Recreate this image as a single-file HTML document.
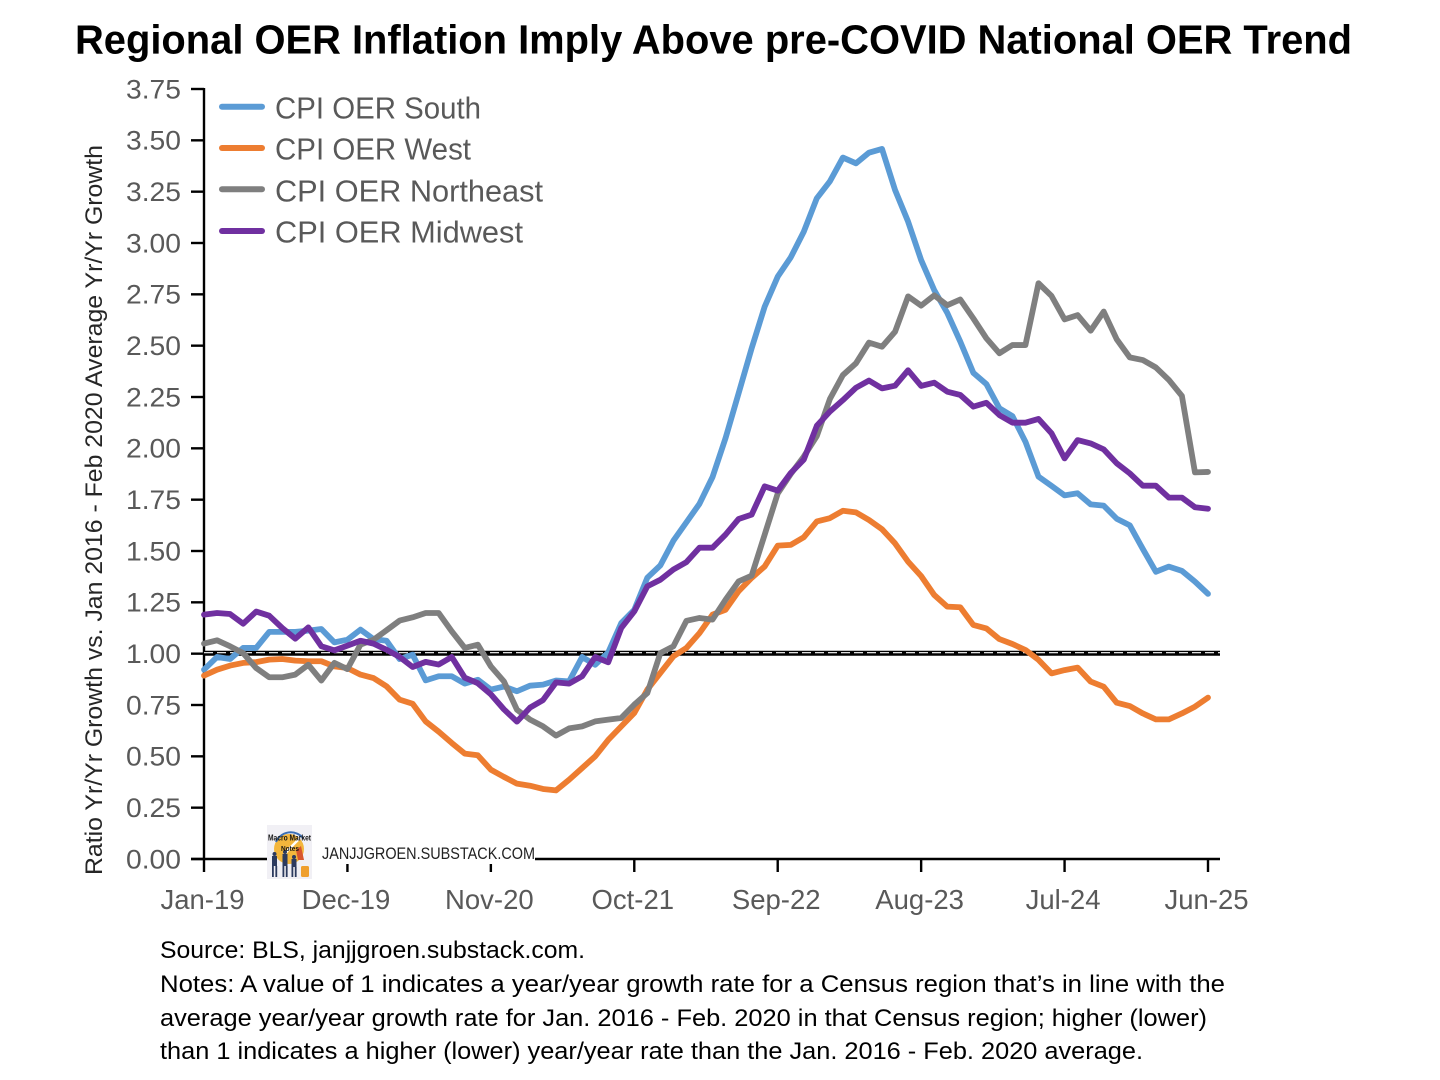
<!DOCTYPE html>
<html lang="en">
<head>
<meta charset="utf-8">
<title>Regional OER Inflation Imply Above pre-COVID National OER Trend</title>
<style>
html,body{margin:0;padding:0;background:#fff;}
svg{display:block;}
text{font-family:"Liberation Sans",Arial,sans-serif;}
</style>
</head>
<body>
<svg id="chart" xmlns="http://www.w3.org/2000/svg" width="1440" height="1080" viewBox="0 0 1440 1080">
  <rect x="0" y="0" width="1440" height="1080" fill="#ffffff"/>
  <text x="75" y="53.5" font-size="40.5" font-weight="700" fill="#000" textLength="1277" lengthAdjust="spacingAndGlyphs">Regional OER Inflation Imply Above pre-COVID National OER Trend</text>
  <text transform="translate(102,875) rotate(-90)" font-size="24" fill="#262626" textLength="730" lengthAdjust="spacingAndGlyphs">Ratio Yr/Yr Growth vs. Jan 2016 - Feb 2020 Average Yr/Yr Growth</text>
  <g id="axes"></g>
  <g id="reference"></g>
  <g id="series"></g>

  <g>
    <g>
      <line x1="222" x2="262" y1="106.7" y2="106.7" stroke="#5B9BD5" stroke-width="6" stroke-linecap="round"/>
      <text x="275" y="118.7" font-size="31" fill="#595959" textLength="206" lengthAdjust="spacingAndGlyphs">CPI OER South</text>
    </g>
    <g>
      <line x1="222" x2="262" y1="148" y2="148" stroke="#ED7D31" stroke-width="6" stroke-linecap="round"/>
      <text x="275" y="159.6" font-size="31" fill="#595959" textLength="196" lengthAdjust="spacingAndGlyphs">CPI OER West</text>
    </g>
    <g>
      <line x1="222" x2="262" y1="189.3" y2="189.3" stroke="#7F7F7F" stroke-width="6" stroke-linecap="round"/>
      <text x="275" y="201.3" font-size="31" fill="#595959" textLength="268" lengthAdjust="spacingAndGlyphs">CPI OER Northeast</text>
    </g>
    <g>
      <line x1="222" x2="262" y1="231" y2="231" stroke="#7030A0" stroke-width="6" stroke-linecap="round"/>
      <text x="275" y="242.7" font-size="31" fill="#595959" textLength="248" lengthAdjust="spacingAndGlyphs">CPI OER Midwest</text>
    </g>
  </g>

  <g>
    <rect x="267" y="852" width="268" height="12" fill="#ffffff"/>
    <g>
      <rect x="267" y="825" width="45" height="54" fill="#f1f0f5"/>
      <circle cx="289" cy="849" r="15" fill="#f3b63c"/>
      <path d="M276 842 A16 16 0 0 1 303 838" fill="none" stroke="#3b6fb5" stroke-width="2"/>
      <path d="M283 856 L290 848 L300 838" fill="none" stroke="#ffffff" stroke-width="2.4"/>
      <path d="M296 850 l5 -4 l3 14 l-6 0 z" fill="#d8552c"/>
      <g fill="#2c3a5e">
        <circle cx="274.500" cy="854" r="2"/><rect x="272" y="856" width="5" height="10"/>
        <rect x="272" y="866" width="1.800" height="11"/><rect x="275.400" y="866" width="1.800" height="11"/>
        <circle cx="285" cy="852" r="2"/><rect x="282.500" y="854" width="5" height="12"/>
        <rect x="282.500" y="866" width="1.800" height="11"/><rect x="285.800" y="866" width="1.800" height="11"/>
        <circle cx="294" cy="857" r="2"/><rect x="291.500" y="859" width="5" height="8"/>
        <rect x="291.500" y="867" width="1.800" height="10"/><rect x="294.800" y="867" width="1.800" height="10"/>
      </g>
      <rect x="301" y="866" width="8" height="11" rx="1.500" fill="#ef9f2e"/>
      <text x="268" y="840.500" font-size="8" font-weight="700" fill="#141414" textLength="43" lengthAdjust="spacingAndGlyphs">Macro Market</text>
      <text x="281" y="851" font-size="7.500" font-weight="700" fill="#141414" textLength="18" lengthAdjust="spacingAndGlyphs">Notes</text>
    </g>
    <text x="322" y="859" font-size="16.500" fill="#222" textLength="213" lengthAdjust="spacingAndGlyphs">JANJJGROEN.SUBSTACK.COM</text>
  </g>

  <g font-size="24" fill="#000">
    <text x="160" y="958" textLength="425" lengthAdjust="spacingAndGlyphs">Source: BLS, janjjgroen.substack.com.</text>
    <text x="160" y="992" textLength="1065" lengthAdjust="spacingAndGlyphs">Notes: A value of 1 indicates a year/year growth rate for a Census region that’s in line with the</text>
    <text x="160" y="1026" textLength="1047" lengthAdjust="spacingAndGlyphs">average year/year growth rate for Jan. 2016 - Feb. 2020 in that Census region; higher (lower)</text>
    <text x="160" y="1059" textLength="983" lengthAdjust="spacingAndGlyphs">than 1 indicates a higher (lower) year/year rate than the Jan. 2016 - Feb. 2020 average.</text>
  </g>
</svg>

<script>
const categories = [
  'Jan-19','Feb-19','Mar-19','Apr-19','May-19','Jun-19','Jul-19','Aug-19','Sep-19','Oct-19','Nov-19','Dec-19',
  'Jan-20','Feb-20','Mar-20','Apr-20','May-20','Jun-20','Jul-20','Aug-20','Sep-20','Oct-20','Nov-20','Dec-20',
  'Jan-21','Feb-21','Mar-21','Apr-21','May-21','Jun-21','Jul-21','Aug-21','Sep-21','Oct-21','Nov-21','Dec-21',
  'Jan-22','Feb-22','Mar-22','Apr-22','May-22','Jun-22','Jul-22','Aug-22','Sep-22','Oct-22','Nov-22','Dec-22',
  'Jan-23','Feb-23','Mar-23','Apr-23','May-23','Jun-23','Jul-23','Aug-23','Sep-23','Oct-23','Nov-23','Dec-23',
  'Jan-24','Feb-24','Mar-24','Apr-24','May-24','Jun-24','Jul-24','Aug-24','Sep-24','Oct-24','Nov-24','Dec-24',
  'Jan-25','Feb-25','Mar-25','Apr-25','May-25','Jun-25'
];
const xTickLabels = ['Jan-19','Dec-19','Nov-20','Oct-21','Sep-22','Aug-23','Jul-24','Jun-25'];
const yTickLabels = ['0.00','0.25','0.50','0.75','1.00','1.25','1.50','1.75','2.00','2.25','2.50','2.75','3.00','3.25','3.50','3.75'];
const referenceValue = 1;

const southValues = [
  0.922,0.984,0.974,1.028,1.028,1.106,1.106,1.106,1.112,1.12,1.055,1.068,1.117,1.071,1.063,0.974,
  0.995,0.87,0.89,0.89,0.854,0.873,0.825,0.84,0.817,0.844,0.849,0.869,0.865,0.984,0.946,1.006,
  1.149,1.214,1.37,1.43,1.55,1.64,1.73,1.86,2.05,2.268,2.487,2.69,2.836,2.93,3.055,3.218,
  3.30,3.416,3.388,3.44,3.458,3.258,3.104,2.917,2.771,2.66,2.52,2.368,2.313,2.195,2.157,2.032,
  1.862,1.817,1.771,1.781,1.727,1.721,1.657,1.625,1.51,1.399,1.424,1.403,1.351,1.291
];
const westValues = [
  0.893,0.922,0.942,0.955,0.959,0.971,0.974,0.966,0.963,0.963,0.938,0.93,0.898,0.881,0.841,0.776,
  0.756,0.67,0.62,0.565,0.513,0.505,0.435,0.4,0.367,0.357,0.341,0.334,0.386,0.443,0.5,0.58,
  0.646,0.711,0.825,0.906,0.987,1.028,1.10,1.19,1.214,1.304,1.369,1.425,1.526,1.53,1.567,1.644,
  1.66,1.696,1.688,1.651,1.606,1.537,1.448,1.378,1.286,1.229,1.226,1.14,1.123,1.071,1.047,1.018,
  0.97,0.904,0.92,0.932,0.864,0.839,0.761,0.745,0.709,0.68,0.68,0.709,0.742,0.786
];
const northeastValues = [
  1.049,1.065,1.036,1.003,0.93,0.885,0.885,0.898,0.946,0.869,0.955,0.925,1.044,1.068,1.114,1.161,
  1.177,1.198,1.198,1.109,1.028,1.044,0.938,0.865,0.727,0.679,0.646,0.601,0.636,0.646,0.67,0.679,
  0.687,0.752,0.808,1.003,1.036,1.16,1.174,1.166,1.263,1.352,1.38,1.58,1.78,1.875,1.96,2.06,
  2.24,2.357,2.414,2.515,2.495,2.568,2.74,2.695,2.745,2.697,2.725,2.633,2.536,2.463,2.503,2.503,
  2.804,2.742,2.628,2.649,2.573,2.666,2.531,2.443,2.43,2.394,2.333,2.255,1.883,1.885
];
const midwestValues = [
  1.19,1.198,1.193,1.146,1.205,1.185,1.125,1.073,1.128,1.036,1.016,1.039,1.063,1.049,1.019,0.984,
  0.935,0.96,0.947,0.984,0.883,0.856,0.802,0.729,0.669,0.737,0.774,0.86,0.854,0.89,0.984,0.958,
  1.125,1.206,1.328,1.36,1.41,1.446,1.516,1.516,1.58,1.656,1.677,1.815,1.794,1.88,1.945,2.11,
  2.179,2.235,2.295,2.33,2.292,2.305,2.38,2.304,2.32,2.276,2.26,2.203,2.222,2.162,2.125,2.125,
  2.143,2.073,1.951,2.04,2.024,1.995,1.927,1.878,1.818,1.818,1.76,1.76,1.713,1.706
];

const SVG_NS = 'http://www.w3.org/2000/svg';
const plotLeft = 204, plotRight = 1208, plotBottom = 859, plotTop = 89;
const yMax = parseFloat(yTickLabels[yTickLabels.length - 1]);

function xScale(i) {
  return plotLeft + i * (plotRight - plotLeft) / (categories.length - 1);
}
function yScale(v) {
  return plotBottom - v * (plotBottom - plotTop) / yMax;
}
function make(tag, parent) {
  const el = document.createElementNS(SVG_NS, tag);
  parent.appendChild(el);
  return el;
}
function setLine(el, x1, y1, x2, y2, color, width) {
  el.setAttribute('x1', x1);
  el.setAttribute('y1', y1);
  el.setAttribute('x2', x2);
  el.setAttribute('y2', y2);
  el.setAttribute('stroke', color);
  el.setAttribute('stroke-width', width);
}

const axes = document.getElementById('axes');

const yAxisLine = make('line', axes);


setLine(yAxisLine, plotLeft, plotTop - 1, plotLeft, plotBottom, '#000', 2.4);

const xAxisLine = make('line', axes);


setLine(xAxisLine, plotLeft - 13, plotBottom, plotRight + 12, plotBottom, '#000', 2.4);

yTickLabels.forEach(function (label) {
  const y = yScale(parseFloat(label));
  const tick = make('line', axes);
  
  
  setLine(tick, plotLeft - 13, y, plotLeft, y, '#000', 2.4);
  const text = make('text', axes);
  
  
  text.setAttribute('x', 181);
  text.setAttribute('y', y + 9.3);
  text.setAttribute('text-anchor', 'end');
  text.setAttribute('font-size', '27');
  text.setAttribute('fill', '#595959');
  text.setAttribute('textLength', '55');
  text.setAttribute('lengthAdjust', 'spacingAndGlyphs');
  text.textContent = label;
});

xTickLabels.forEach(function (label) {
  const x = xScale(categories.indexOf(label));
  const tick = make('line', axes);
  
  
  setLine(tick, x, plotBottom, x, plotBottom + 13, '#000', 2.4);
  const text = make('text', axes);
  
  
  text.setAttribute('x', x - 1.5);
  text.setAttribute('y', 909);
  text.setAttribute('text-anchor', 'middle');
  text.setAttribute('font-size', '27.5');
  text.setAttribute('fill', '#595959');
  text.textContent = label;
});

const referenceGroup = document.getElementById('reference');
const refY = yScale(referenceValue);
const refBand = make('line', referenceGroup);


setLine(refBand, plotLeft, refY - 0.4, plotRight + 12, refY - 0.4, '#000', 5);
const refDash = make('line', referenceGroup);


setLine(refDash, plotLeft, refY - 1, plotRight + 12, refY - 1, '#ffffff', 1.2);
refDash.setAttribute('stroke-dasharray', '9 4');

const seriesGroup = document.getElementById('series');
function drawSeries(values, color, name) {
  const d = values.map(function (v, i) {
    return (i ? 'L' : 'M') + xScale(i).toFixed(2) + ' ' + yScale(v).toFixed(2);
  }).join(' ');
  const path = make('path', seriesGroup);
  
  
  path.setAttribute('d', d);
  path.setAttribute('fill', 'none');
  path.setAttribute('stroke', color);
  path.setAttribute('stroke-width', '5.8');
  path.setAttribute('stroke-linejoin', 'round');
  path.setAttribute('stroke-linecap', 'round');
}
drawSeries(southValues, '#5B9BD5', 'series-line-south');
drawSeries(westValues, '#ED7D31', 'series-line-west');
drawSeries(northeastValues, '#7F7F7F', 'series-line-northeast');
drawSeries(midwestValues, '#7030A0', 'series-line-midwest');
</script>
</body>
</html>
